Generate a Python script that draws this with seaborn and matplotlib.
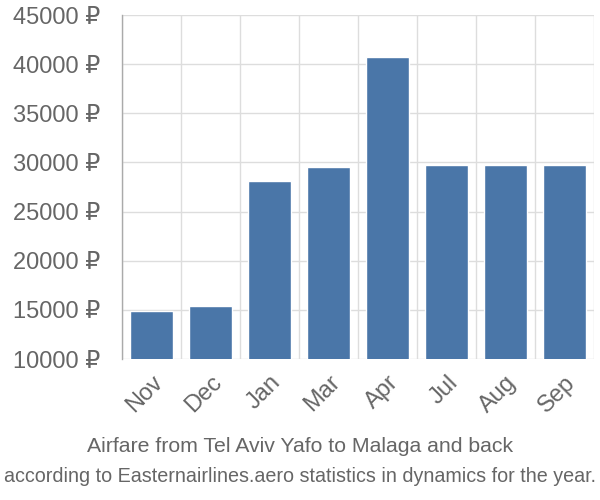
import matplotlib

matplotlib.use("Agg")

import matplotlib.pyplot as plt
import numpy as np
import pandas as pd
import seaborn as sns

# ── Data ──────────────────────────────────────────────────────────────────────
months = ["Nov", "Dec", "Jan", "Mar", "Apr", "Jul", "Aug", "Sep"]
prices = [14900, 15400, 28100, 29500, 40700, 29700, 29700, 29700]
y_ticks = [10000, 15000, 20000, 25000, 30000, 35000, 40000, 45000]

TITLE = "Airfare from Tel Aviv Yafo to Malaga and back"
SUBTITLE = "according to Easternairlines.aero statistics in dynamics for the year."

BAR_COLOR = "#4a76a8"
TEXT_COLOR = "#666666"
GRID_COLOR = "#dddddd"

sns.set_style("white")
plt.rcParams["font.family"] = ["Liberation Sans", "DejaVu Sans"]

df = pd.DataFrame({"month": months, "price": prices})

fig = plt.figure(figsize=(6, 5), dpi=100)
ax = fig.add_axes([122 / 600, 141 / 500, 472 / 600, 344 / 500])

sns.barplot(data=df, x="month", y="price", color=BAR_COLOR, width=0.72,
            saturation=1, ax=ax)

ax.set_ylim(10000, 45000)
ax.set_xlim(-0.5, len(months) - 0.5)
ax.set_yticks(y_ticks)
ax.set_yticklabels([f"{v} ₽" for v in y_ticks], color=TEXT_COLOR, fontsize=17)
ax.set_xticks(range(len(months)))
ax.set_xticklabels(months, rotation=45, ha="right", rotation_mode="anchor",
                   color=TEXT_COLOR, fontsize=17)
ax.set_xticks(np.arange(-0.5, len(months)), minor=True)

ax.tick_params(axis="y", length=22, color=GRID_COLOR, width=1, pad=-6)
ax.tick_params(axis="x", which="major", length=0, pad=9)
ax.tick_params(axis="x", which="minor", length=19, color=GRID_COLOR, width=1)

ax.grid(axis="y", color=GRID_COLOR, linewidth=1)
ax.grid(axis="x", which="minor", color=GRID_COLOR, linewidth=1)
ax.set_axisbelow(True)

for side in ["top", "right", "bottom"]:
    ax.spines[side].set_visible(False)
ax.spines["left"].set_color("#aaaaaa")
ax.spines["left"].set_linewidth(1)

ax.set_xlabel("")
ax.set_ylabel("")

fig.text(0.5, 1 - 446 / 500, TITLE, ha="center", va="center",
         color=TEXT_COLOR, fontsize=15.3)
fig.text(0.5, 1 - 476 / 500, SUBTITLE, ha="center", va="center",
         color=TEXT_COLOR, fontsize=14.2)

fig.savefig("out.png", dpi=100)
